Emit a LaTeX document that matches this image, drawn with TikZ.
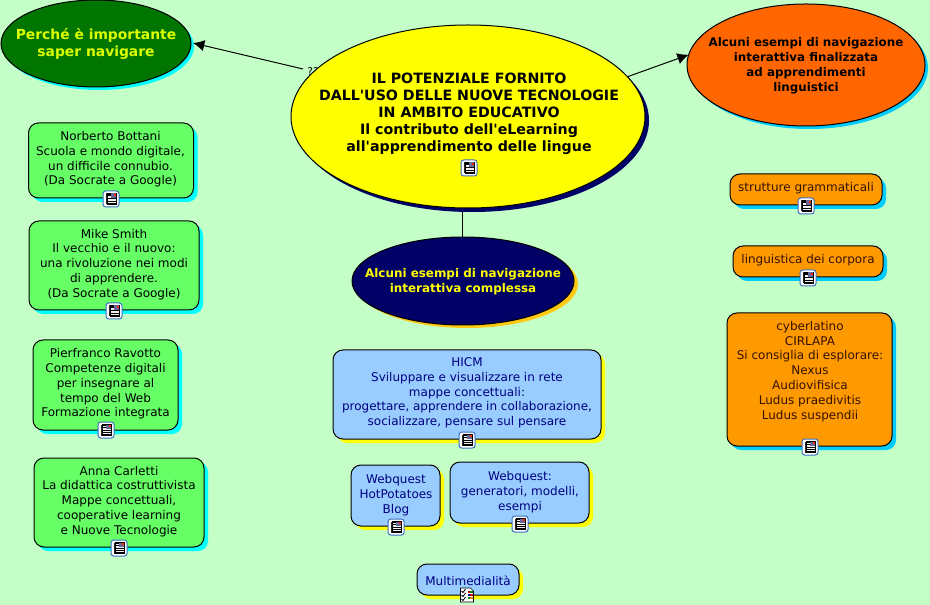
\documentclass[tikz,border=0pt]{standalone}
\usepackage{fontspec}
\setmainfont{DejaVu Sans}
\usetikzlibrary{shapes.geometric,arrows.meta}
\definecolor{bgc}{RGB}{196,255,200}
\definecolor{grn}{RGB}{102,255,102}
\definecolor{blu}{RGB}{153,204,255}
\definecolor{org}{RGB}{255,153,0}
\definecolor{sky}{RGB}{0,204,255}
\definecolor{cyn}{RGB}{0,255,255}
\definecolor{yel}{RGB}{255,255,0}
\definecolor{nvy}{RGB}{0,0,102}
\definecolor{txtb}{RGB}{0,0,128}
\definecolor{txto}{RGB}{51,17,0}
\definecolor{dgr}{RGB}{0,117,0}
\definecolor{lim}{RGB}{220,255,0}
\definecolor{amb}{RGB}{255,200,20}
\definecolor{icb}{RGB}{60,110,190}
\definecolor{orr}{RGB}{255,102,0}
\tikzset{
  x=0.75pt,y=-0.75pt,
  base/.style={inner sep=0pt,outer sep=0pt,line width=0.75pt},
  rbox/.style={base,rectangle,rounded corners=7.5pt,draw=black},
  ell/.style={base,ellipse,draw=black},
  label/.style={inner sep=0pt,align=center,yshift=-1.1pt,font=\fontsize{9}{11.1}\selectfont},
  blabel/.style={inner sep=0pt,align=center,font=\fontsize{10.65}{12.75}\bfseries\selectfont},
  conn/.style={line width=0.75pt,draw=black},
  tip/.style={conn,-{Latex[length=8.5pt,width=8.5pt]}}
}
\newcommand{\rb}[9]{%
  \node[rbox,draw=none,fill=#7,minimum width=#4*0.75pt,minimum height=#5*0.75pt] (#1s) at (#2+#8,#3+#9) {};
  \node[rbox,fill=#6,minimum width=#4*0.75pt,minimum height=#5*0.75pt] (#1) at (#2,#3) {};
}
\newcommand{\el}[9]{%
  \node[ell,draw=none,fill=#7,minimum width=#4*0.75pt,minimum height=#5*0.75pt] (#1s) at (#2+#8,#3+#9) {};
  \node[ell,fill=#6,minimum width=#4*0.75pt,minimum height=#5*0.75pt] (#1) at (#2,#3) {};
}
\newcommand{\docicon}[2]{%
  \begin{scope}[shift={(#1,#2)}]
    \fill[white,draw=icb,line width=0.75pt,rounded corners=2pt] (-8,-8) rectangle (8,8);
    \fill[black!85] (-5.5,-5.5) rectangle (-3.5,5.5);
    \fill[white!95!black,draw=black,line width=0.4pt] (-4,-5.5) rectangle (5,5.5);
    \fill[black] (-3,-0.5) rectangle (4.5,0.5);
    \fill[black] (-3,2) rectangle (4.5,3);
    \fill[black] (-3,4) rectangle (4.5,5);
    \fill[black] (-3,-3.5) rectangle (-0.5,-2.5);
    \fill[black] (-3,-5) rectangle (-0.5,-4);
    \fill[gray!80!blue] (0,-5.5) rectangle (5,-1);
    \fill[red!70!orange] (2.5,-5) rectangle (4.5,-3);
  \end{scope}}
\newcommand{\chkicon}[2]{%
  \begin{scope}[shift={(#1,#2)}]
    \fill[white,draw=black,line width=0.5pt] (-6.5,-7) -- (3.5,-7) -- (6.5,-4) -- (6.5,7) -- (-6.5,7) -- cycle;
    \foreach \yy in {-4,0,4}{
      \draw[black,line width=0.6pt] (-5.5,\yy) -- (-4,\yy+1.5) -- (-1.5,\yy-2);
    }
    \fill[red!80!black] (0.5,-4.5) rectangle (3,-2.5);
    \fill[green!50!black] (3,-4.5) rectangle (5.5,-2.5);
    \fill[blue!70!black] (0.5,-1.5) rectangle (3,0.5);
    \fill[red!80!black] (3,-1.5) rectangle (5.5,0.5);
    \fill[green!50!black] (0.5,2) rectangle (3,4);
    \fill[orange] (3,2) rectangle (5.5,4);
  \end{scope}}
\begin{document}
\begin{tikzpicture}
\useasboundingbox[fill=bgc] (0,0) rectangle (930,605);
\node[inner sep=0pt,font=\fontsize{8}{9}\selectfont] (qq) at (313,72) {??};
\coordinate (maintop) at (462,212);
\coordinate (leftstart) at (303,69);
\coordinate (lefttip) at (193,43);
\el{perche}{96}{43.5}{190}{87}{dgr}{cyn}{3}{3}
\el{orange}{806}{65}{238}{122}{orr}{sky}{3}{3}
\el{main}{468}{116.5}{354}{183}{yel}{nvy}{4}{4}
\el{navy}{463}{281}{222}{88}{nvy}{amb}{4}{3}
\draw[conn] (maintop) -- (maintop |- navy.north);
\draw[tip] (leftstart) -- (lefttip);
\draw[tip] (main.14.5) -- (orange.175);
\node[blabel] (maintxt) at (469,113.5) {IL POTENZIALE FORNITO\\DALL\textquotesingle USO DELLE NUOVE TECNOLOGIE\\IN AMBITO EDUCATIVO\\Il contributo dell\textquotesingle eLearning\\all\textquotesingle apprendimento delle lingue};
\node[inner sep=0pt,align=center,text=lim,font=\fontsize{10.4}{13.4}\bfseries\selectfont] (perchetxt) at (96,44) {Perché è importante\\saper navigare};
\node[inner sep=0pt,align=center,font=\fontsize{8.9}{11.2}\bfseries\selectfont] (orangetxt) at (806,65.5) {Alcuni esempi di navigazione\\interattiva finalizzata\\ad apprendimenti\\linguistici};
\node[inner sep=0pt,align=center,text=yel,font=\fontsize{8.95}{11.2}\bfseries\selectfont] (navytxt) at (463,281.5) {Alcuni esempi di navigazione\\interattiva complessa};
\rb{nb}{111}{160.5}{165}{75}{grn}{cyn}{4}{4}
\node[label] (nbt) at (110.5,158) {Norberto Bottani\\Scuola e mondo digitale,\\un difficile connubio.\\(Da Socrate a Google)};
\rb{ms}{114}{265.5}{170}{89}{grn}{cyn}{4}{4}
\node[label] (mst) at (114,263) {Mike Smith\\Il vecchio e il nuovo:\\una rivoluzione nei modi\\di apprendere.\\(Da Socrate a Google)};
\rb{pr}{105.5}{385}{145}{90}{grn}{cyn}{4}{4}
\node[label] (prt) at (105.5,382.5) {Pierfranco Ravotto\\Competenze digitali\\per insegnare al\\tempo del Web\\Formazione integrata};
\rb{ac}{119}{502.5}{170}{89}{grn}{cyn}{4}{4}
\node[label] (act) at (119,500) {Anna Carletti\\La didattica costruttivista\\Mappe concettuali,\\cooperative learning\\e Nuove Tecnologie};
\rb{hi}{467}{394.5}{268}{89}{blu}{yel}{4}{4}
\node[label,text=txtb] (hit) at (467,391.5) {HICM\\Sviluppare e visualizzare in rete\\mappe concettuali:\\progettare, apprendere in collaborazione,\\socializzare, pensare sul pensare};
\rb{wa}{395.5}{495.5}{89}{61}{blu}{yel}{4}{4}
\node[label,text=txtb] (wat) at (396,493.5) {Webquest\\HotPotatoes\\Blog};
\rb{wb}{519.5}{492.5}{139}{61}{blu}{yel}{4}{4}
\node[label,text=txtb] (wbt) at (520,491) {Webquest:\\generatori, modelli,\\esempi};
\rb{mm}{468}{579.5}{102}{31}{blu}{yel}{4}{4}
\node[label,text=txtb] (mmt) at (468,579) {Multimedialità};
\rb{st}{806}{189.5}{152}{31}{org}{sky}{4}{4}
\node[label,text=txto] (stt) at (806,187) {strutture grammaticali};
\rb{li}{808}{261.5}{150}{31}{org}{sky}{4}{4}
\node[label,text=txto] (lit) at (808,259) {linguistica dei corpora};
\rb{cy}{809.5}{379.5}{165}{133}{org}{sky}{4}{4}
\node[label,text=txto] (cyt) at (810,370) {cyberlatino\\CIRLAPA\\Si consiglia di esplorare:\\Nexus\\Audiovifisica\\Ludus praedivitis\\Ludus suspendii};
\docicon{469}{168}
\docicon{111}{199}
\docicon{114}{311}
\docicon{106}{430}
\docicon{119}{548}
\docicon{467}{440}
\docicon{396}{527}
\docicon{520}{524}
\docicon{806}{206}
\docicon{808}{278}
\docicon{810}{447}
\chkicon{467}{595}
\end{tikzpicture}
\end{document}
